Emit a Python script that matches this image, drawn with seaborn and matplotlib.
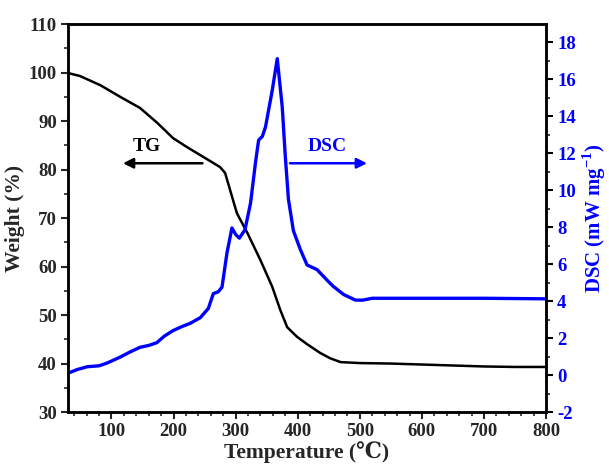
import matplotlib
matplotlib.use("Agg")
import matplotlib.pyplot as plt
import seaborn as sns
import pandas as pd
from matplotlib.ticker import MultipleLocator

sns.set_style("ticks")
plt.rcParams['font.family'] = ['Liberation Serif', 'DejaVu Serif']
plt.rcParams['font.weight'] = 'bold'
plt.rcParams['axes.unicode_minus'] = False
plt.rcParams['mathtext.fontset'] = 'custom'
plt.rcParams['mathtext.rm'] = 'Liberation Serif:bold'
plt.rcParams['mathtext.bf'] = 'Liberation Serif:bold'

# TG data (temperature in C, weight %)
tg_temp = [30, 49, 82, 114, 146, 174, 199, 222, 248, 275, 283, 291, 302, 319, 340, 359, 372, 383, 399, 415, 436, 452, 469, 500, 550, 600, 650, 700, 750, 800]
tg_weight = [99.9, 99.3, 97.4, 95.0, 92.7, 89.6, 86.5, 84.6, 82.6, 80.5, 79.3, 75.8, 71.0, 66.9, 61.3, 55.8, 51.0, 47.5, 45.5, 44.0, 42.2, 41.1, 40.3, 40.1, 40.0, 39.8, 39.6, 39.4, 39.3, 39.3]

# DSC data (temperature in C, mW/mg)
dsc_temp = [30, 45, 61, 80, 93, 114, 130, 146, 160, 173, 185, 199, 212, 227, 243, 256, 264, 272, 278, 286, 294, 300, 306, 315, 324, 332, 337, 343, 348, 359, 367, 375, 380, 385, 393, 404, 415, 431, 448, 457, 474, 493, 505, 520, 600, 700, 800]
dsc_value = [0.1, 0.3, 0.45, 0.5, 0.65, 0.97, 1.25, 1.5, 1.6, 1.75, 2.1, 2.4, 2.6, 2.8, 3.1, 3.6, 4.4, 4.5, 4.75, 6.6, 7.95, 7.6, 7.4, 7.85, 9.3, 11.5, 12.7, 12.9, 13.4, 15.4, 17.1, 14.5, 11.8, 9.5, 7.8, 6.8, 5.95, 5.7, 5.1, 4.8, 4.35, 4.05, 4.05, 4.15, 4.15, 4.15, 4.12]

tg_df = pd.DataFrame({"T": tg_temp, "W": tg_weight})
dsc_df = pd.DataFrame({"T": dsc_temp, "D": dsc_value})

fig = plt.figure(figsize=(6.09, 4.72), dpi=100)
ax = fig.add_axes([0.1117, 0.127, 0.785, 0.822])
ax2 = ax.twinx()

sns.lineplot(data=tg_df, x="T", y="W", ax=ax, color="black", lw=1.8)
sns.lineplot(data=dsc_df, x="T", y="D", ax=ax2, color="#0000ff", lw=2.4)

ax.set_xlim(30, 800)
ax.set_ylim(30, 110)
ax2.set_ylim(-2, 18.97)

ax.xaxis.set_major_locator(MultipleLocator(100))
ax.xaxis.set_minor_locator(MultipleLocator(20))
ax.yaxis.set_major_locator(MultipleLocator(10))
ax.yaxis.set_minor_locator(MultipleLocator(5))
ax2.yaxis.set_major_locator(MultipleLocator(2))
ax2.yaxis.set_minor_locator(MultipleLocator(1))

ax.tick_params(axis='both', which='major', direction='out', length=5, width=1.5, labelsize=13.5, pad=3)
ax.tick_params(axis='both', which='minor', direction='out', length=3, width=1.2)
ax.tick_params(axis='x', top=False, which='both')
ax2.tick_params(axis='y', which='major', direction='out', length=5, width=1.5, labelsize=13.5, colors='black', pad=3)
ax2.tick_params(axis='y', which='minor', direction='out', length=3, width=1.2)

for a in (ax, ax2):
    for s in a.spines.values():
        s.set_visible(True)
        s.set_linewidth(1.8)
        s.set_color('black')

ax.set_xlabel("Temperature (℃)", fontsize=15.5, fontweight='bold', labelpad=1)
ax.set_ylabel("Weight (%)", fontsize=15.5, fontweight='bold', labelpad=3)
ax2.set_ylabel(r"DSC (mW mg$^{-1}$)", fontsize=15, fontweight='bold', color='#0000ff', labelpad=3)

for lab in ax.get_xticklabels() + ax.get_yticklabels():
    lab.set_fontweight('bold')
for lab in ax2.get_yticklabels():
    lab.set_fontweight('bold')
    lab.set_color('#0000ff')

# Annotations
ax.annotate("", xy=(114, 81.3), xytext=(251, 81.3),
            arrowprops=dict(arrowstyle="-|>", color="black", lw=1.8, mutation_scale=15))
ax.text(157, 84.8, "TG", fontsize=14, fontweight='bold', ha='center', va='center', color='black')
ax.annotate("", xy=(516, 81.3), xytext=(383, 81.3),
            arrowprops=dict(arrowstyle="-|>", color="#0000ff", lw=1.8, mutation_scale=15))
ax.text(447, 84.8, "DSC", fontsize=14, fontweight='bold', ha='center', va='center', color='#0000ff')

fig.savefig("out.png", dpi=100)
